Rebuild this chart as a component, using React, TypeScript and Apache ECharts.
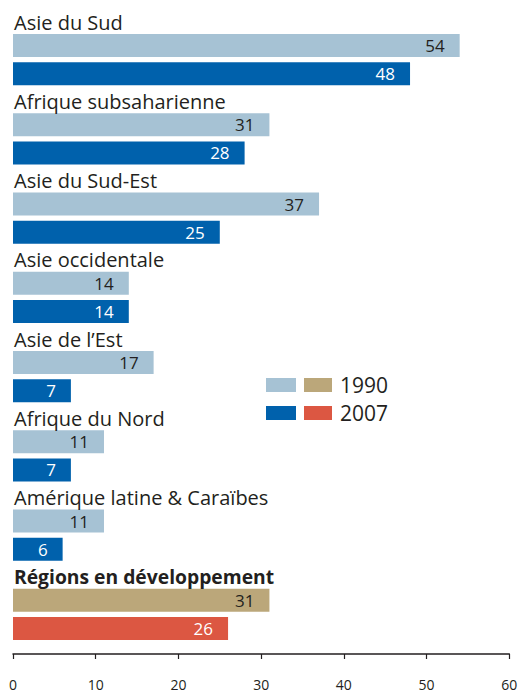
import React, { useEffect, useRef } from "react";
import * as echarts from "echarts";

const categories = [
  "Asie du Sud",
  "Afrique subsaharienne",
  "Asie du Sud-Est",
  "Asie occidentale",
  "Asie de l\u2019Est",
  "Afrique du Nord",
  "Amérique latine & Caraïbes",
  "Régions en développement",
];
const values1990 = [54, 31, 37, 14, 17, 11, 11, 31];
const values2007 = [48, 28, 25, 14, 7, 7, 6, 26];
const xTicks = [0, 10, 20, 30, 40, 50, 60];
const legendLabels = ["1990", "2007"];

const FONT = "'Open Sans', 'DejaVu Sans', sans-serif";
const TEXT = "#231f20";
const LIGHT = "#a6c2d4";
const DARK = "#0061ac";
const TAN = "#bba77a";
const RED = "#dc5742";

export default function App() {
  const ref = useRef<HTMLDivElement>(null);
  useEffect(() => {
    if (!ref.current) return;
    const chart = echarts.init(ref.current, undefined, { renderer: "svg" });
    const last = categories.length - 1;
    const mk = (vals: number[], color: string, special: string, labelColor: string, specialLabel: string) =>
      vals.map((v, i) => ({
        value: v,
        itemStyle: { color: i === last ? special : color },
        label: { color: i === last ? specialLabel : labelColor },
      }));
    chart.setOption({
      animation: false,
      textStyle: { fontFamily: FONT },
      grid: { left: 13, right: 18.7, top: 20, bottom: 39, containLabel: false },
      xAxis: {
        type: "value",
        min: xTicks[0],
        max: xTicks[xTicks.length - 1],
        interval: 10,
        splitLine: { show: false },
        axisLine: { show: true, lineStyle: { color: TEXT, width: 1.5 } },
        axisTick: { show: true, length: 5, lineStyle: { color: TEXT, width: 1.2 } },
        axisLabel: { color: TEXT, fontSize: 14, fontFamily: FONT, margin: 23 },
      },
      yAxis: [
        {
          type: "category",
          data: categories,
          inverse: true,
          position: "left",
          offset: 0,
          axisLine: { show: false },
          axisTick: { show: false },
          axisLabel: { show: false },
        },
        {
          type: "category",
          data: [...categories, ""],
          inverse: true,
          boundaryGap: false,
          position: "left",
          offset: 0,
          axisLine: { show: false },
          axisTick: { show: false },
          splitLine: { show: false },
          axisLabel: {
            inside: true,
            margin: 1,
            align: "left",
            verticalAlign: "middle",
            padding: [4, 0, 0, 0],
            color: TEXT,
            fontSize: 20,
            fontFamily: FONT,
            formatter: (v: string, i: number) => (i === last ? `{b|${v}}` : v),
            rich: {
              b: { fontWeight: "bold", fontSize: 19.3, color: TEXT, fontFamily: FONT },
            },
          },
          z: 10,
        },
      ],
      series: [
        {
          type: "bar",
          name: legendLabels[0],
          yAxisIndex: 0,
          data: mk(values1990, LIGHT, TAN, TEXT, TEXT),
          barWidth: 23,
          barGap: "22%",
          label: { show: true, position: "insideRight", distance: 15, fontSize: 17, fontFamily: FONT },
        },
        {
          type: "bar",
          name: legendLabels[1],
          yAxisIndex: 0,
          data: mk(values2007, DARK, RED, "#ffffff", "#ffffff"),
          barWidth: 23,
          label: { show: true, position: "insideRight", distance: 15, fontSize: 17, fontFamily: FONT },
        },
      ],
      graphic: [
        { type: "rect", shape: { x: 266, y: 378, width: 30, height: 14 }, style: { fill: LIGHT } },
        { type: "rect", shape: { x: 304, y: 378, width: 28, height: 14 }, style: { fill: TAN } },
        { type: "rect", shape: { x: 266, y: 406, width: 30, height: 14 }, style: { fill: DARK } },
        { type: "rect", shape: { x: 304, y: 406, width: 28, height: 14 }, style: { fill: RED } },
        {
          type: "text", x: 340, y: 385,
          style: { text: legendLabels[0], fill: TEXT, fontSize: 21, fontFamily: FONT, verticalAlign: "middle" },
        },
        {
          type: "text", x: 340, y: 413,
          style: { text: legendLabels[1], fill: TEXT, fontSize: 21, fontFamily: FONT, verticalAlign: "middle" },
        },
      ],
    });
    return () => chart.dispose();
  }, []);
  return (
    <div
      ref={ref}
      style={{ position: "fixed", left: 0, top: 0, width: 528, height: 693, background: "#fff" }}
    />
  );
}
